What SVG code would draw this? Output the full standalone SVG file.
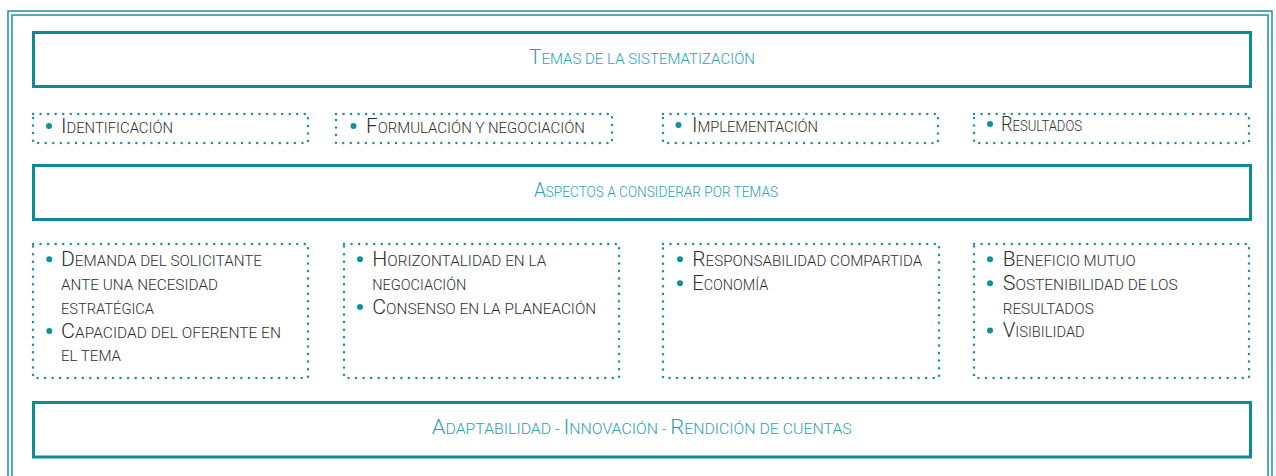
<svg xmlns="http://www.w3.org/2000/svg" width="1276" height="476" viewBox="0 0 1276 476">
<style>
.frame{fill:none;stroke:#1a919d;stroke-width:1.5}
.solid{fill:#fff;stroke:#0e8a96;stroke-width:3}
.dot{fill:none;stroke:#1a919d;stroke-width:2.5;stroke-linecap:round;stroke-dasharray:0 7.55}
.t{font-family:Roboto,"Liberation Sans",sans-serif;font-weight:300;font-size:14.8px;fill:#2e2e2e}
.h{font-family:Roboto,"Liberation Sans",sans-serif;font-weight:300;font-size:14.8px;fill:#2aa2ae}
.c{font-size:20.5px}
.b{fill:#12909c}
</style>
<rect width="1276" height="476" fill="#fff"/>
<g id="frame">
<rect class="frame" x="8" y="11" width="1264" height="490"/>
<rect class="frame" x="12" y="15" width="1256" height="490"/>
</g>
<g id="connectors"></g>
<g id="title-temas">
<rect class="solid" x="33.5" y="32.5" width="1217" height="54"/>
<text class="h" x="529" y="64" textLength="226" lengthAdjust="spacingAndGlyphs"><tspan class="c">T</tspan>EMAS DE LA SISTEMATIZACIÓN</text>
</g>
<g id="tema-identificacion">
<rect class="dot" x="33" y="114" width="275" height="29"/>
<circle class="b" cx="49" cy="126" r="3"/>
<text class="t" x="61" y="133" textLength="112" lengthAdjust="spacingAndGlyphs"><tspan class="c">I</tspan>DENTIFICACIÓN</text>
</g>
<g id="tema-formulacion">
<rect class="dot" x="336" y="114" width="276" height="29"/>
<circle class="b" cx="353.5" cy="126" r="3"/>
<text class="t" x="366" y="133" textLength="219" lengthAdjust="spacingAndGlyphs"><tspan class="c">F</tspan>ORMULACIÓN Y NEGOCIACIÓN</text>
</g>
<g id="tema-implementacion">
<rect class="dot" x="663" y="114" width="275" height="29"/>
<circle class="b" cx="678.5" cy="125" r="3"/>
<text class="t" x="692" y="132" textLength="126" lengthAdjust="spacingAndGlyphs"><tspan class="c">I</tspan>MPLEMENTACIÓN</text>
</g>
<g id="tema-resultados">
<rect class="dot" x="974" y="114" width="275" height="29"/>
<circle class="b" cx="990" cy="124" r="3"/>
<text class="t" x="1001" y="131" textLength="81" lengthAdjust="spacingAndGlyphs"><tspan class="c">R</tspan>ESULTADOS</text>
</g>
<g id="title-aspectos">
<rect class="solid" x="33.5" y="165.5" width="1217" height="54"/>
<text class="h" x="534" y="197" textLength="244" lengthAdjust="spacingAndGlyphs"><tspan class="c">A</tspan>SPECTOS A CONSIDERAR POR TEMAS</text>
</g>
<g id="aspectos-identificacion">
<rect class="dot" x="33" y="244" width="275" height="134"/>
<circle class="b" cx="49.3" cy="259.3" r="3"/>
<text class="t" x="61" y="266" textLength="201" lengthAdjust="spacingAndGlyphs"><tspan class="c">D</tspan>EMANDA DEL SOLICITANTE</text>
<text class="t" x="61" y="290" textLength="157" lengthAdjust="spacingAndGlyphs">ANTE UNA NECESIDAD</text>
<text class="t" x="61" y="313.5" textLength="93" lengthAdjust="spacingAndGlyphs">ESTRATÉGICA</text>
<circle class="b" cx="49.3" cy="331" r="3"/>
<text class="t" x="61" y="337.5" textLength="220" lengthAdjust="spacingAndGlyphs"><tspan class="c">C</tspan>APACIDAD DEL OFERENTE EN</text>
<text class="t" x="61" y="361" textLength="60" lengthAdjust="spacingAndGlyphs">EL TEMA</text>
</g>
<g id="aspectos-formulacion">
<rect class="dot" x="344" y="244" width="275" height="134"/>
<circle class="b" cx="360" cy="259.3" r="3"/>
<text class="t" x="372.3" y="266" textLength="174" lengthAdjust="spacingAndGlyphs"><tspan class="c">H</tspan>ORIZONTALIDAD EN LA</text>
<text class="t" x="372.3" y="290" textLength="94" lengthAdjust="spacingAndGlyphs">NEGOCIACIÓN</text>
<circle class="b" cx="360" cy="307" r="3"/>
<text class="t" x="372.3" y="313.5" textLength="224" lengthAdjust="spacingAndGlyphs"><tspan class="c">C</tspan>ONSENSO EN LA PLANEACIÓN</text>
</g>
<g id="aspectos-implementacion">
<rect class="dot" x="663" y="244" width="276" height="134"/>
<circle class="b" cx="680" cy="259.3" r="3"/>
<text class="t" x="692.3" y="266" textLength="230" lengthAdjust="spacingAndGlyphs"><tspan class="c">R</tspan>ESPONSABILIDAD COMPARTIDA</text>
<circle class="b" cx="680" cy="283.3" r="3"/>
<text class="t" x="692.3" y="290" textLength="76" lengthAdjust="spacingAndGlyphs"><tspan class="c">E</tspan>CONOMÍA</text>
</g>
<g id="aspectos-resultados">
<rect class="dot" x="974" y="244" width="275" height="134"/>
<circle class="b" cx="990" cy="259.3" r="3"/>
<text class="t" x="1002.7" y="266" textLength="133" lengthAdjust="spacingAndGlyphs"><tspan class="c">B</tspan>ENEFICIO MUTUO</text>
<circle class="b" cx="990" cy="283.3" r="3"/>
<text class="t" x="1002.7" y="290" textLength="175" lengthAdjust="spacingAndGlyphs"><tspan class="c">S</tspan>OSTENIBILIDAD DE LOS</text>
<text class="t" x="1002.7" y="313.5" textLength="91" lengthAdjust="spacingAndGlyphs">RESULTADOS</text>
<circle class="b" cx="990" cy="330.5" r="3"/>
<text class="t" x="1002.7" y="337" textLength="82" lengthAdjust="spacingAndGlyphs"><tspan class="c">V</tspan>ISIBILIDAD</text>
</g>
<g id="title-transversales">
<rect class="solid" x="33.5" y="402.5" width="1217" height="54.5"/>
<text class="h" x="431.7" y="434.3" textLength="420" lengthAdjust="spacingAndGlyphs"><tspan class="c">A</tspan>DAPTABILIDAD - <tspan class="c">I</tspan>NNOVACIÓN - <tspan class="c">R</tspan>ENDICIÓN DE CUENTAS</text>
</g>
</svg>
